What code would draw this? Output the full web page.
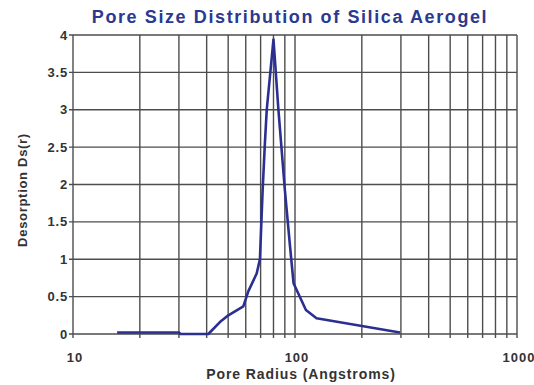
<!DOCTYPE html>
<html>
  <head>
    <meta charset="utf-8" />
    <script src="https://d3js.org/d3.v7.min.js"></script>
    <style>
      body { margin: 0; background: #fff; }
      text { font-family: Arial, 'Liberation Sans', sans-serif; }
    </style>
  </head>
  <body>
    <div id="chart"></div>
    <script>
      // pore radius (Angstroms) and desorption values
      var radius = [15.8, 30, 30.5, 40.7, 45.9, 50.1, 58.5, 61.6, 67.2, 69.5, 71.5, 73.2, 74.6, 80, 84.2, 90, 95, 98.5, 112, 125, 297];
      var desorption = [0.02, 0.02, 0, 0, 0.16, 0.25, 0.37, 0.57, 0.81, 1.0, 1.93, 2.56, 3.0, 3.94, 3.0, 1.93, 1.17, 0.68, 0.32, 0.21, 0.02];
      var yTicks = [0, 0.5, 1, 1.5, 2, 2.5, 3, 3.5, 4];
      var xLabels = [10, 100, 1000];

      var width = 534, height = 385;
      var margin = { top: 35, right: 17, bottom: 51, left: 73 };

      var svg = d3
        .select('#chart')
        .append('svg')
        .attr('width', width)
        .attr('height', height);

      var x = d3
        .scaleLog()
        .domain([10, 1000])
        .range([margin.left, width - margin.right]);
      var y = d3
        .scaleLinear()
        .domain([0, 4])
        .range([height - margin.bottom, margin.top]);

      // minor log grid: 10,20,...,90,100,200,...,1000
      var gridX = [];
      [10, 100].forEach(function (d) {
        for (var i = 1; i <= 9; i++) gridX.push(d * i);
      });
      gridX.push(1000);

      var grid = svg.append('g').attr('stroke', '#4d4d4d').attr('stroke-width', 1.4);

      grid
        .selectAll('line.v')
        .data(gridX)
        .join('line')
        .attr('class', 'v')
        .attr('x1', (d) => x(d))
        .attr('x2', (d) => x(d))
        .attr('y1', y(4))
        .attr('y2', y(0) + 4);

      grid
        .selectAll('line.h')
        .data(yTicks)
        .join('line')
        .attr('class', 'h')
        .attr('x1', x(10) - 4)
        .attr('x2', x(1000))
        .attr('y1', (d) => y(d))
        .attr('y2', (d) => y(d));

      // y tick labels
      svg
        .append('g')
        .selectAll('text')
        .data(yTicks)
        .join('text')
        .attr('x', x(10) - 5)
        .attr('y', (d) => y(d) + 4.5)
        .attr('text-anchor', 'end')
        .attr('font-size', 13)
        .attr('font-weight', 'bold')
        .attr('letter-spacing', 0.8)
        .attr('fill', '#333')
        .text((d) => d);

      // x tick labels
      svg
        .append('g')
        .selectAll('text')
        .data(xLabels)
        .join('text')
        .attr('x', (d) => x(d) + 2)
        .attr('y', 362)
        .attr('text-anchor', 'middle')
        .attr('font-size', 13)
        .attr('font-weight', 'bold')
        .attr('letter-spacing', 1)
        .attr('fill', '#333')
        .text((d) => d);

      // the curve
      var line = d3
        .line()
        .x((d, i) => x(radius[i]))
        .y((d) => y(d));

      svg
        .append('path')
        .datum(desorption)
        .attr('d', line)
        .attr('fill', 'none')
        .attr('stroke', '#2b2f8f')
        .attr('stroke-width', 2.6)
        .attr('stroke-linejoin', 'round');

      // title
      svg
        .append('text')
        .attr('x', 290)
        .attr('y', 23)
        .attr('text-anchor', 'middle')
        .attr('font-size', 18)
        .attr('font-weight', 'bold')
        .attr('letter-spacing', 1.6)
        .attr('fill', '#2b3990')
        .text('Pore Size Distribution of Silica Aerogel');

      // axis titles
      svg
        .append('text')
        .attr('x', 301)
        .attr('y', 379)
        .attr('text-anchor', 'middle')
        .attr('font-size', 14)
        .attr('font-weight', 'bold')
        .attr('letter-spacing', 0.9)
        .attr('fill', '#333')
        .text('Pore Radius (Angstroms)');

      svg
        .append('text')
        .attr('transform', 'translate(27,190) rotate(-90)')
        .attr('text-anchor', 'middle')
        .attr('font-size', 13)
        .attr('font-weight', 'bold')
        .attr('letter-spacing', 0.7)
        .attr('fill', '#333')
        .text('Desorption Ds(r)');
    </script>
  </body>
</html>
